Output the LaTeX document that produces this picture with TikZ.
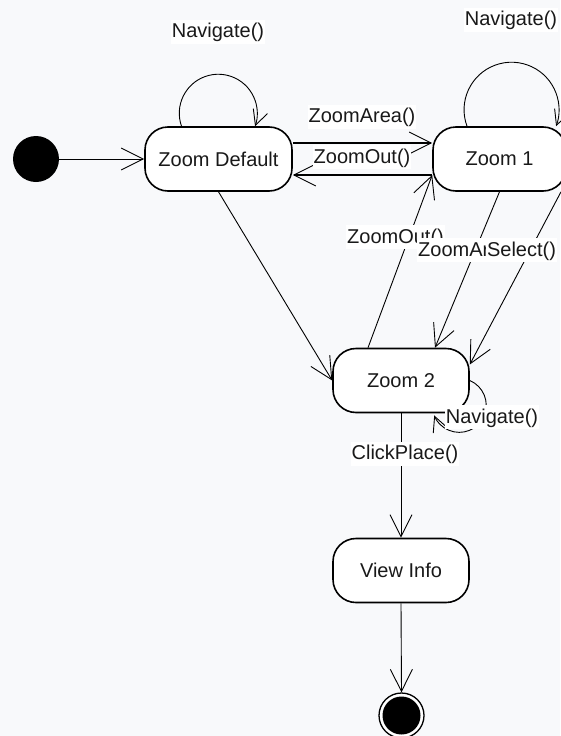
\documentclass[tikz,border=0pt]{standalone}
\usepackage{fontspec}
\setmainfont{Liberation Sans}
\usetikzlibrary{arrows.meta}
\definecolor{bgc}{HTML}{F8F9FB}
\tikzset{
 state/.style={draw=black,line width=1.6pt,fill=white,rounded corners=23pt,minimum width=#1,minimum height=64pt,inner sep=0pt,font=\fontsize{20}{24}\selectfont,text=black!90},
 state/.default=136pt,
 lbl/.style={fill=white,inner xsep=1pt,inner ysep=2pt,text height=16pt,text depth=4pt,font=\fontsize{20}{24}\selectfont,text=black!90},
 conn/.style={draw=black,line width=0.9pt,-{Straight Barb[length=22pt,width=22pt,line width=0.9pt]}},
 heavy/.style={conn,line width=1.1pt},
 loopline/.style={draw=black,line width=0.9pt,-{Straight Barb[length=15pt,width=15pt,line width=0.9pt]}},
 dotblack/.style={circle,fill=black,draw=none,minimum size=46pt,inner sep=0pt},
}
\begin{document}
\begin{tikzpicture}[x=1pt,y=-1pt]
\useasboundingbox (0,0) rectangle (560,736);
\fill[bgc] (0,0) rectangle (560,736);
\node[dotblack] (start) at (36,159) {};
\node[state=147pt] (zd) at (218.5,159) {Zoom Default};
\node[state=133pt] (z1) at (499.5,159) {Zoom 1};
\node[state] (z2) at (401,380.5) {Zoom 2};
\node[state] (vi) at (401,570.5) {View Info};
\node[circle,draw=black,line width=1.3pt,fill=white,minimum size=45pt,inner sep=0pt] (endo) at (401.5,715.5) {};
\node[circle,fill=black,minimum size=38pt,inner sep=0pt] (endi) at (401.5,715.5) {};
\draw[conn] (start) -- (zd);
\draw[heavy] ([yshift=16pt]zd.east) -- ([yshift=16pt]z1.west);
\draw[heavy] ([yshift=-16pt]z1.west) -- ([yshift=-16pt]zd.east);
\draw[conn] (zd.south) -- (z2.west);
\draw[conn] ([xshift=-33pt]z2.north) -- ([yshift=-16pt]z1.west);
\draw[conn] (z1.south) -- ([xshift=34pt]z2.north);
\draw[conn] ([xshift=61.5pt]z1.south) -- ([yshift=16pt]z2.east);
\draw[conn] (z2.south) -- (vi.north);
\draw[conn] (vi.south) -- (endo.north);
\draw[loopline] ([xshift=-37pt]zd.north) arc[start angle=199.4,end angle=-19.4,radius=39pt];
\draw[loopline] ([xshift=-32.5pt]z1.north) arc[start angle=200.3,end angle=-20.3,radius=47.5pt];
\draw[loopline] (z2.east) arc[start angle=67,end angle=-158,radius=27pt];
\node[lbl] (l1) at (218,31.5) {Navigate()};
\node[lbl] (l2) at (511,19.5) {Navigate()};
\node[lbl] (l3) at (362,116.5) {ZoomArea()};
\node[lbl] (l4) at (362,157) {ZoomOut()};
\node[lbl] (l5) at (395.5,237) {ZoomOut()};
\node[lbl] (l6) at (471.5,250) {ZoomArea()};
\node[lbl] (l7) at (521.5,250) {Select()};
\node[lbl] (l8) at (492,417) {Navigate()};
\node[lbl] (l9) at (405,453.5) {ClickPlace()};
\end{tikzpicture}
\end{document}
